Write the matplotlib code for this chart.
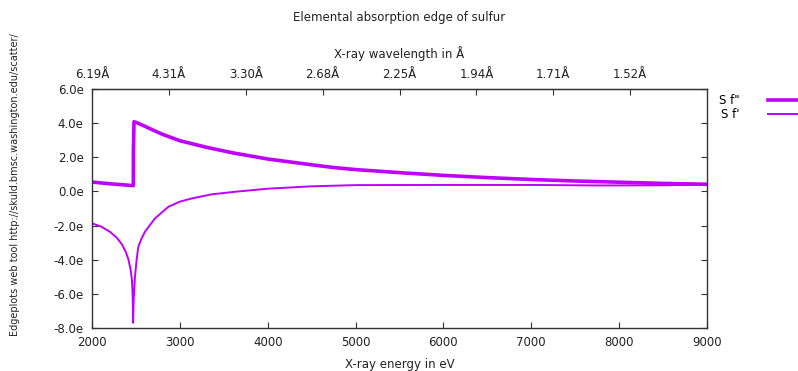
import matplotlib
matplotlib.use("Agg")
import matplotlib.pyplot as plt

# f'' (thick) and f' (thin) of sulfur vs X-ray energy (eV)
E_F2 = [2000, 2100, 2200, 2300, 2400, 2470, 2471, 2478, 2500, 2600, 2700, 2800, 2900,
        3000, 3300, 3600, 4000, 4250, 4500, 4750, 5000, 5500, 6000, 6500,
        7000, 7500, 8000, 8500, 9000]
F2 = [0.55, 0.50, 0.45, 0.41, 0.37, 0.34, 2.3, 4.08, 4.05, 3.82, 3.58, 3.35, 3.16,
      2.97, 2.59, 2.26, 1.90, 1.73, 1.56, 1.40, 1.28, 1.10, 0.94, 0.81,
      0.70, 0.61, 0.54, 0.47, 0.42]

E_F1 = [2000, 2100, 2200, 2280, 2340, 2385, 2415, 2440, 2455, 2463, 2468, 2474, 2489,
        2508, 2527, 2560, 2603, 2717, 2869, 3000, 3135, 3362, 3628, 4000, 4500,
        5000, 6000, 7000, 7750, 8500, 9000]
F1 = [-1.87, -2.05, -2.35, -2.7, -3.1, -3.55, -4.0, -4.6, -5.2, -6.2, -7.7, -6.4, -5.0,
      -4.0, -3.24, -2.8, -2.36, -1.58, -0.9, -0.6, -0.41, -0.17, -0.02, 0.16, 0.30,
      0.37, 0.38, 0.38, 0.35, 0.36, 0.40]

Y_TICKS = [-8, -6, -4, -2, 0, 2, 4, 6]
Y_LABELS = ["-8.0e", "-6.0e", "-4.0e", "-2.0e", "0.0e", "2.0e", "4.0e", "6.0e"]
X_TICKS = [2000, 3000, 4000, 5000, 6000, 7000, 8000, 9000]
TOP_E = [2000, 2875, 3750, 4625, 5500, 6375, 7250, 8125]
TOP_LABELS = ["6.19Å", "4.31Å", "3.30Å", "2.68Å", "2.25Å", "1.94Å", "1.71Å", "1.52Å"]

COL = "#c000ff"
FS = 8.5

fig = plt.figure(figsize=(7.98, 3.71), dpi=100)
ax = fig.add_axes([92 / 798, 1 - 328 / 371, 615 / 798, 239 / 371])

ax.plot(E_F2, F2, color=COL, lw=2.6, label='S f"')
ax.plot(E_F1, F1, color=COL, lw=1.4, label="S f'")

ax.set_xlim(2000, 9000)
ax.set_ylim(-8, 6)
ax.set_xticks(X_TICKS)
ax.set_yticks(Y_TICKS)
ax.set_yticklabels(Y_LABELS)
ax.tick_params(direction="in", labelsize=FS, length=4, color="#333333",
               labelcolor="#222222", right=True, top=False, pad=6)
for s in ax.spines.values():
    s.set_linewidth(1.0)
    s.set_color("#333333")

top = ax.secondary_xaxis("top")
top.set_xticks(TOP_E)
top.set_xticklabels(TOP_LABELS)
top.tick_params(direction="in", labelsize=FS, length=4, color="#333333",
                labelcolor="#222222", pad=6)
top.set_xlabel("X-ray wavelength in Å", fontsize=FS, color="#222222", labelpad=7)

ax.set_xlabel("X-ray energy in eV", fontsize=FS, color="#222222", labelpad=6)
fig.text(0.5, 1 - 18 / 371, "Elemental absorption edge of sulfur", ha="center",
         va="center", fontsize=FS, color="#222222")
fig.text(15 / 798, 1 - 185 / 371,
         "Edgeplots web tool http://skuld.bmsc.washington.edu/scatter/",
         rotation=90, ha="center", va="center", fontsize=7, color="#222222")

leg = ax.legend(loc="upper left", bbox_to_anchor=(1.012, 1.0), frameon=False,
                fontsize=FS, markerfirst=False, handlelength=3.8,
                handletextpad=2.4, labelspacing=0.15, borderaxespad=0)

fig.savefig("out.png", dpi=100)
